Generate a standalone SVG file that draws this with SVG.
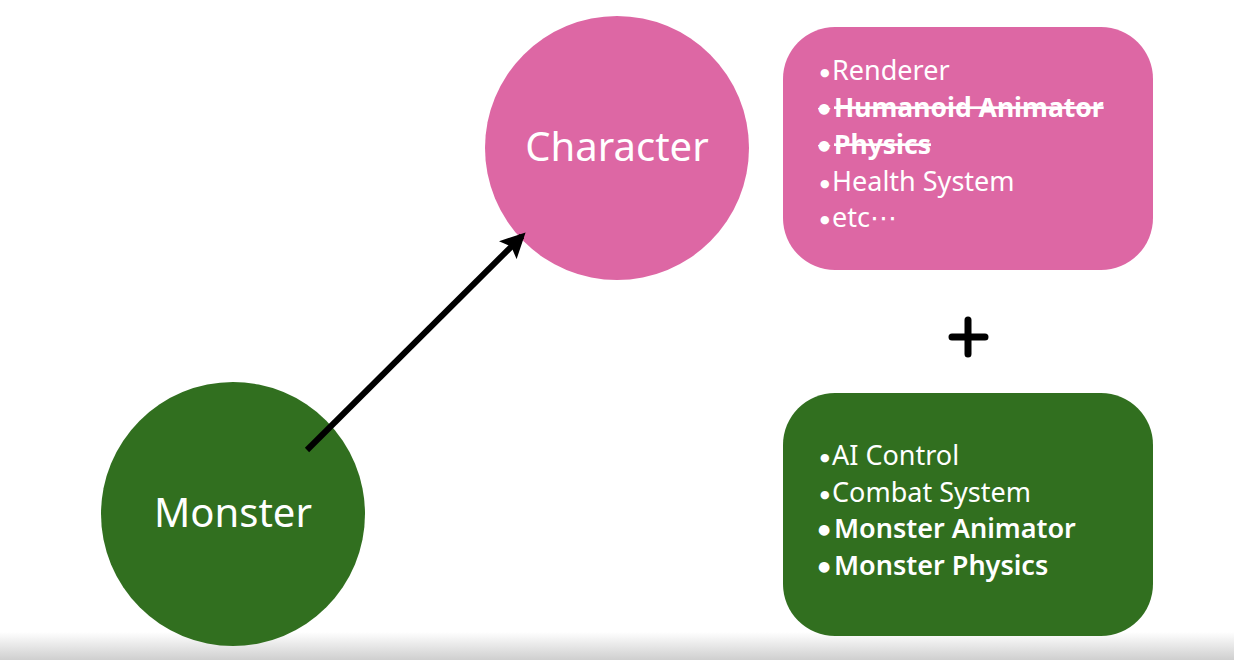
<svg xmlns="http://www.w3.org/2000/svg" width="1234" height="660" viewBox="0 0 1234 660">
<defs>
<style>
.lbl{font-family:"Noto Sans","DejaVu Sans",sans-serif;fill:#fff}
.big{font-size:40px}
.item{font-size:27px}
.b{font-weight:700;font-size:26.5px}
.m{font-weight:600}
.strike{text-decoration:line-through}
.dot{font-family:"DejaVu Sans",sans-serif;font-size:11px;font-weight:400}
.dotb{font-family:"DejaVu Sans",sans-serif;font-size:14px;font-weight:400}
</style>
<linearGradient id="shade" x1="0" y1="0" x2="0" y2="1">
<stop offset="0" stop-color="#ffffff"/>
<stop offset="1" stop-color="#cfcfcf"/>
</linearGradient>
<marker id="arr" viewBox="0 0 10 10" refX="8" refY="5" markerWidth="4.2" markerHeight="4.2" orient="auto" markerUnits="strokeWidth">
<path d="M0,0 L10,5 L0,10 L2,5 Z" fill="#000"/>
</marker>
</defs>
<rect width="1234" height="660" fill="#fff"/>
<rect x="0" y="632" width="1234" height="28" fill="url(#shade)"/>

<g id="character">
<circle cx="617" cy="148" r="132" fill="#DD67A4"/>
<text class="lbl big" x="617" y="161" text-anchor="middle">Character</text>
</g>

<g id="monster">
<circle cx="233" cy="514" r="132" fill="#316F1F"/>
<text class="lbl big" x="233" y="527" text-anchor="middle">Monster</text>
</g>

<g id="character-components">
<rect x="783" y="27" width="370" height="243" rx="52" fill="#DD67A4"/>
<text class="lbl item" y="80"><tspan class="dot" x="820" dy="-4">●</tspan><tspan x="832" dy="4">Renderer</tspan></text>
<text class="lbl item b strike" y="117"><tspan class="dotb" x="818" dy="-4">●</tspan><tspan x="834" dy="4">Humanoid Animator</tspan></text>
<text class="lbl item b strike" y="154"><tspan class="dotb" x="818" dy="-4">●</tspan><tspan x="834" dy="4">Physics</tspan></text>
<text class="lbl item" y="191"><tspan class="dot" x="820" dy="-4">●</tspan><tspan x="832" dy="4">Health System</tspan></text>
<text class="lbl item" y="227"><tspan class="dot" x="820" dy="-4">●</tspan><tspan x="832" dy="4">etc⋯</tspan></text>
</g>

<g id="plus">
<path d="M952,337 H985 M968,320 V354" stroke="#000" stroke-width="7" stroke-linecap="round" fill="none"/>
</g>

<g id="monster-components">
<rect x="783" y="393" width="370" height="243" rx="52" fill="#316F1F"/>
<text class="lbl item" y="465"><tspan class="dot" x="820" dy="-4">●</tspan><tspan x="832" dy="4">AI Control</tspan></text>
<text class="lbl item" y="502"><tspan class="dot" x="820" dy="-4">●</tspan><tspan x="832" dy="4">Combat System</tspan></text>
<text class="lbl item m" y="538"><tspan class="dotb" x="818" dy="-4">●</tspan><tspan x="834" dy="4">Monster Animator</tspan></text>
<text class="lbl item m" y="575"><tspan class="dotb" x="818" dy="-4">●</tspan><tspan x="834" dy="4">Monster Physics</tspan></text>
</g>

<g id="connectors">
<line x1="307" y1="450" x2="522" y2="236" stroke="#000" stroke-width="6" marker-end="url(#arr)"/>
</g>
</svg>
